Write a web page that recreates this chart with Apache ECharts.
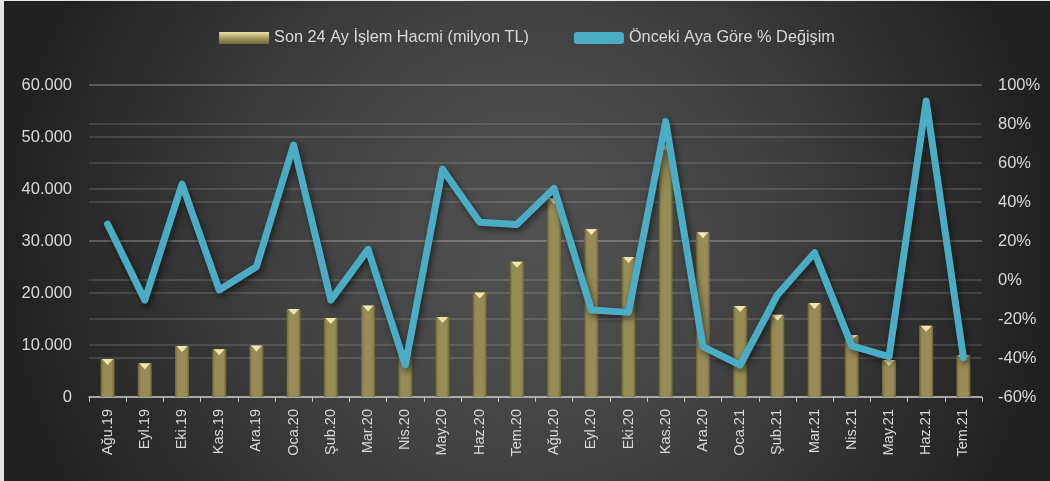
<!DOCTYPE html>
<html><head><meta charset="utf-8">
<script src="https://cdn.jsdelivr.net/npm/echarts@6/dist/echarts.min.js"></script>
<style>html,body{margin:0;padding:0;background:#e4e4e4;overflow:hidden;}#c{position:absolute;left:4px;top:1px;width:1046px;height:480px;}</style>
</head><body><div id="c"></div>
<script>
const categories = ['Ağu.19','Eyl.19','Eki.19','Kas.19','Ara.19','Oca.20','Şub.20','Mar.20','Nis.20','May.20','Haz.20','Tem.20','Ağu.20','Eyl.20','Eki.20','Kas.20','Ara.20','Oca.21','Şub.21','Mar.21','Nis.21','May.21','Haz.21','Tem.21'];
const volume = [7300,6500,9800,9200,9900,16900,15200,17600,9000,15400,20100,26000,38200,32300,26900,48500,31700,17500,15800,18100,11900,7100,13700,8100];
const change = [28.6,-10.3,49.2,-5.1,6.8,69.2,-10.3,15.7,-43.6,56.8,29.6,28.5,47.0,-15.4,-16.6,81.2,-34.2,-43.6,-7.7,14.0,-33.8,-39.3,91.8,-39.8];
const leftTicks = {min:0,max:60000,interval:10000};
const rightTicks = {min:-60,max:100,interval:20};
const volName = 'Son 24 Ay İşlem Hacmi (milyon TL)';
const chgName = 'Önceki Aya Göre % Değişim';

const chart = echarts.init(document.getElementById('c'));
const fmtThousands = v => v===0 ? '0' : String(v).replace(/\B(?=(\d{3})+(?!\d))/g,'.');
const txt = '#d9d9d9';
const font = 'Liberation Sans';
chart.setOption({
  backgroundColor: {type:'radial',x:0.5,y:0.5,r:1.1,colorStops:[{offset:0,color:'#525252'},{offset:0.45,color:'#414141'},{offset:1,color:'#202020'}]},
  textStyle:{fontFamily:font},
  legend:{
    top:24, left:'center', itemGap:45, itemWidth:50, itemHeight:12,
    textStyle:{color:txt,fontSize:16.3,fontFamily:font},
    data:[
      {name:volName, icon:'rect', itemStyle:{color:{type:'linear',x:0,y:0,x2:0,y2:1,colorStops:[{offset:0,color:'#ece2a8'},{offset:0.5,color:'#a69c60'},{offset:1,color:'#6d6638'}]}}},
      {name:chgName, icon:'roundRect', itemStyle:{color:'#4bacc6'}}
    ]
  },
  grid:{left:85,right:68,top:84,bottom:84},
  xAxis:{
    type:'category', data:categories, boundaryGap:true,
    axisLine:{lineStyle:{color:'#bfbfbf',width:1.5}},
    axisTick:{show:true,alignWithLabel:false,length:5,lineStyle:{color:'#bfbfbf'}},
    axisLabel:{rotate:90,color:txt,fontSize:14.5,margin:12,interval:0,fontFamily:font}
  },
  yAxis:[
    {type:'value',min:leftTicks.min,max:leftTicks.max,interval:leftTicks.interval,
     axisLine:{show:false},axisTick:{show:false},
     axisLabel:{color:txt,fontSize:16.5,margin:17,formatter:fmtThousands,fontFamily:font},
     splitLine:{lineStyle:{color:'rgba(255,255,255,0.17)',width:1.5}}},
    {type:'value',min:rightTicks.min,max:rightTicks.max,interval:rightTicks.interval,
     axisLine:{show:false},axisTick:{show:false},
     axisLabel:{color:txt,fontSize:16.5,margin:16,formatter:'{value}%',fontFamily:font},
     splitLine:{show:true,lineStyle:{color:'rgba(255,255,255,0.17)',width:1.5}}}
  ],
  series:[
    {name:volName,type:'bar',yAxisIndex:0,data:volume,barWidth:14,z:2,
     itemStyle:{color:{type:'linear',x:0,y:0,x2:1,y2:0,colorStops:[{offset:0,color:'#6b6436'},{offset:0.2,color:'#958c56'},{offset:0.8,color:'#958c56'},{offset:1,color:'#6b6436'}]},
       shadowColor:'rgba(0,0,0,0.5)',shadowBlur:4,shadowOffsetX:1,shadowOffsetY:1}},
    {name:volName,type:'pictorialBar',yAxisIndex:0,data:volume,symbol:'triangle',symbolRotate:180,
     symbolSize:[11,6],symbolPosition:'end',symbolOffset:[0,0],z:3,
     itemStyle:{color:'#f0e7b0'},legendHoverLink:false},
    {name:chgName,type:'line',yAxisIndex:1,data:change,symbol:'none',z:5,
     lineStyle:{color:'#4bacc6',width:7,cap:'round',join:'round',shadowColor:'rgba(0,0,0,0.55)',shadowBlur:6,shadowOffsetX:2,shadowOffsetY:3},
     itemStyle:{color:'#4bacc6'}}
  ]
});
</script></body></html>
